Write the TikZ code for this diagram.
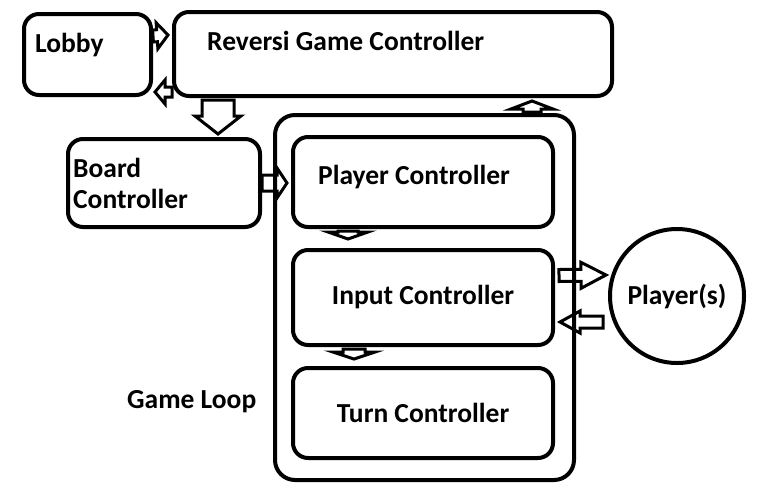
\documentclass[tikz,border=0pt]{standalone}
\usepackage{fontspec}
\setmainfont{Carlito}
\usetikzlibrary{calc}
\begin{document}
\begin{tikzpicture}[x=1pt,y=-1pt,
				every node/.style={font=\fontsize{27.5}{31}\selectfont\bfseries,inner sep=0pt},
				box/.style={draw,line width=4pt,rounded corners=15pt},
				blockarrow/.style n args={3}{draw,line width=3pt,to path={
					($(\tikztostart)!#1!90:(\tikztotarget)$)
					-- ($($(\tikztotarget)!#3!(\tikztostart)$)!#1!-90:(\tikztostart)$)
					-- ($($(\tikztotarget)!#3!(\tikztostart)$)!#2!-90:(\tikztostart)$)
					-- (\tikztotarget)
					-- ($($(\tikztotarget)!#3!(\tikztostart)$)!#2!90:(\tikztostart)$)
					-- ($($(\tikztotarget)!#3!(\tikztostart)$)!#1!90:(\tikztostart)$)
					-- ($(\tikztostart)!#1!-90:(\tikztotarget)$) -- cycle}}]
\useasboundingbox (0,0) rectangle (765,501);
\node[box,minimum width=127pt,minimum height=81pt] (lobby) at (87.5,54.5) {};
\node[anchor=base west] (lobbytext) at (35,52) {Lobby};
\node[box,minimum width=438pt,minimum height=84pt] (rgc) at (393,54) {};
\node[anchor=base west] (rgctext) at (207,50) {Reversi Game Controller};
\node[box,minimum width=192pt,minimum height=88pt] (board) at (164,183) {};
\node[anchor=base west,align=left] (boardtext) at (73,208) {Board\\Controller};
\node[box,rounded corners=20pt,minimum width=299pt,minimum height=365pt] (loop) at (424.5,297.5) {};
\node[anchor=base west] (looptext) at (127,408) {Game Loop};
\node[box,text depth=14pt,minimum width=260pt,minimum height=90pt] (player) at (423,182) {Player Controller\hspace*{18pt}};
\node[box,minimum width=260pt,minimum height=95pt] (input) at (423,297.5) {Input Controller};
\node[box,minimum width=260pt,minimum height=90pt] (turn) at (423,413) {Turn Controller};
\node[draw,circle,line width=4pt,minimum size=134pt] (players) at (677,296) {Player(s)};
\draw[blockarrow={6pt}{13pt}{11pt}] ($(lobby.north east)+(0,24)$) to ($(rgc.north west)+(-4,25)$);
\draw[blockarrow={5pt}{12pt}{10pt}] ($(rgc.south west)+(0,-6)$) to ($(lobby.south east)+(2,-5)$);
\draw[blockarrow={16pt}{23pt}{18pt}] ($(rgc.south west)+(46,2)$) to ($(rgc.south west |- board.north)+(46,-3)$);
\draw[blockarrow={9pt}{21pt}{8pt}] ($(loop.north east)+(-44,-1)$) to ($(rgc.south east)+(-82,3)$);
\draw[blockarrow={8pt}{15pt}{10pt}] (board.east) to ($(player.west)+(-4,1)$);
\draw[blockarrow={10pt}{20pt}{7pt}] ($(player.south west)+(57,2)$) to ($(input.north west)+(57,-9)$);
\draw[blockarrow={11pt}{21pt}{7pt}] ($(input.south west)+(63,2)$) to ($(turn.north west)+(63,-7)$);
\draw[blockarrow={6pt}{13pt}{25pt}] ($(input.east)+(4,-22)$) to ($(players.west)+(-2,-21)$);
\draw[blockarrow={6pt}{11pt}{20pt}] ($(players.west)+(-5,26)$) to ($(input.east)+(5,24.5)$);
\end{tikzpicture}
\end{document}
